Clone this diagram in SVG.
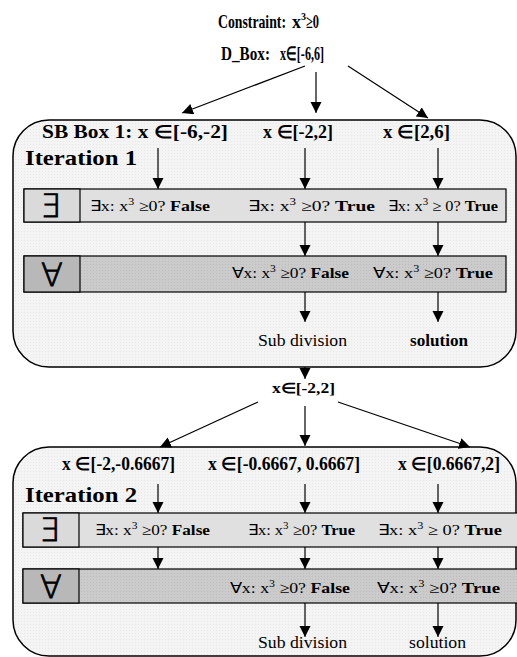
<svg xmlns="http://www.w3.org/2000/svg" width="517" height="657" viewBox="0 0 517 657">
<defs>
<marker id="ah" markerWidth="10" markerHeight="12" refX="11" refY="5.5" orient="auto" markerUnits="userSpaceOnUse">
<path d="M0,0 L11,5.5 L0,11 z" fill="#000"/>
</marker>
<pattern id="dots" width="3" height="3" patternUnits="userSpaceOnUse">
<rect width="3" height="3" fill="#f4f4f4"/>
<rect width="1" height="1" fill="#e8e8e8"/>
</pattern>
<pattern id="dots2" width="3" height="3" patternUnits="userSpaceOnUse">
<rect width="3" height="3" fill="#cbcbcb"/>
<rect width="1" height="1" fill="#bdbdbd"/>
</pattern>
</defs>
<style>
text{font-family:"Liberation Serif","Times New Roman",serif;fill:#000}
.b{font-weight:bold}
.h{font-size:18px;font-weight:bold}
.it{font-size:22px;font-weight:bold}
.q{font-size:15px}
.sym{font-family:"DejaVu Sans",sans-serif;font-size:32px;font-weight:200;text-anchor:middle;stroke:#000;stroke-width:0.8}
.frame{fill:url(#dots);stroke:#000;stroke-width:1.5}
.ex{fill:#e0e0e0;stroke:#000;stroke-width:1.2}
.exs{fill:#dadada;stroke:#000;stroke-width:1.2}
.fa{fill:url(#dots2);stroke:#000;stroke-width:1.2}
.fas{fill:#b8b8b8;stroke:#000;stroke-width:1.2}
#connectors line{stroke:#000;stroke-width:1.2;marker-end:url(#ah)}
</style>
<rect width="517" height="657" fill="#fff"/>

<g id="header">
<text class="h" x="218" y="28" style="font-size:19px" textLength="68" lengthAdjust="spacingAndGlyphs">Constraint:</text>
<text class="h" x="292" y="28">x</text>
<text class="b" x="301" y="20" style="font-size:10px">3</text>
<text class="h" x="306" y="28" textLength="13" lengthAdjust="spacingAndGlyphs">≥0</text>
<text class="h" x="221" y="60" style="font-size:19px" textLength="49" lengthAdjust="spacingAndGlyphs">D_Box:</text>
<text class="h" x="280" y="60" style="font-size:19px" textLength="44" lengthAdjust="spacingAndGlyphs">x∈[-6,6]</text>
</g>

<g id="iteration1">
<rect class="frame" x="13" y="120" width="503" height="247" rx="36" ry="36"/>
<text class="h" x="42" y="138" textLength="186" lengthAdjust="spacingAndGlyphs">SB Box 1: x ∈[-6,-2]</text>
<text class="h" x="263" y="138" textLength="70" lengthAdjust="spacingAndGlyphs">x ∈[-2,2]</text>
<text class="h" x="383" y="138" textLength="67" lengthAdjust="spacingAndGlyphs">x ∈[2,6]</text>
<text class="it" x="25" y="165" textLength="112" lengthAdjust="spacingAndGlyphs">Iteration 1</text>
<g id="exists1">
<rect class="ex" x="24" y="189" width="482" height="33"/>
<rect class="exs" x="24" y="189" width="56" height="33"/>
<text class="sym" x="50" y="217">∃</text>
<text class="q" x="90" y="211" textLength="120" lengthAdjust="spacingAndGlyphs">∃x: x<tspan font-size="10" dy="-6">3</tspan><tspan dy="6"> ≥0? </tspan><tspan class="b">False</tspan></text>
<text class="q" x="248" y="211" textLength="127" lengthAdjust="spacingAndGlyphs">∃x: x<tspan font-size="10" dy="-6">3</tspan><tspan dy="6"> ≥0? </tspan><tspan class="b">True</tspan></text>
<text class="q" x="388" y="211" textLength="110" lengthAdjust="spacingAndGlyphs">∃x: x<tspan font-size="10" dy="-6">3</tspan><tspan dy="6"> ≥ 0? </tspan><tspan class="b">True</tspan></text>
</g>
<g id="forall1">
<rect class="fa" x="24" y="256" width="482" height="36"/>
<rect class="fas" x="24" y="256" width="56" height="36"/>
<text class="sym" x="52" y="286">∀</text>
<text class="q" x="232" y="278" textLength="117" lengthAdjust="spacingAndGlyphs">∀x: x<tspan font-size="10" dy="-6">3</tspan><tspan dy="6"> ≥0? </tspan><tspan class="b">False</tspan></text>
<text class="q" x="373" y="278" textLength="120" lengthAdjust="spacingAndGlyphs">∀x: x<tspan font-size="10" dy="-6">3</tspan><tspan dy="6"> ≥0? </tspan><tspan class="b">True</tspan></text>
</g>
<text class="q" x="258" y="346" style="font-size:16px" textLength="89" lengthAdjust="spacingAndGlyphs">Sub division</text>
<text class="q b" x="410" y="346" style="font-size:16px" textLength="58" lengthAdjust="spacingAndGlyphs">solution</text>
</g>

<g id="mid">
<text class="b" x="272" y="393" style="font-size:14px" textLength="63" lengthAdjust="spacingAndGlyphs">x∈[-2,2]</text>
</g>

<g id="iteration2">
<rect class="frame" x="13" y="447" width="503" height="209" rx="36" ry="36"/>
<text class="h" x="62" y="470" textLength="113" lengthAdjust="spacingAndGlyphs">x ∈[-2,-0.6667]</text>
<text class="h" x="208" y="470" textLength="152" lengthAdjust="spacingAndGlyphs">x ∈[-0.6667, 0.6667]</text>
<text class="h" x="398" y="470" textLength="102" lengthAdjust="spacingAndGlyphs">x ∈[0.6667,2]</text>
<text class="it" x="25" y="502" textLength="112" lengthAdjust="spacingAndGlyphs">Iteration 2</text>
<g id="exists2">
<rect class="ex" x="23" y="513" width="496" height="34"/>
<rect class="exs" x="23" y="513" width="56" height="34"/>
<text class="sym" x="49" y="541">∃</text>
<text class="q" x="95" y="535" textLength="115" lengthAdjust="spacingAndGlyphs">∃x: x<tspan font-size="10" dy="-6">3</tspan><tspan dy="6"> ≥0? </tspan><tspan class="b">False</tspan></text>
<text class="q" x="248" y="535" textLength="107" lengthAdjust="spacingAndGlyphs">∃x: x<tspan font-size="10" dy="-6">3</tspan><tspan dy="6"> ≥0? </tspan><tspan class="b">True</tspan></text>
<text class="q" x="378" y="535" textLength="124" lengthAdjust="spacingAndGlyphs">∃x: x<tspan font-size="10" dy="-6">3</tspan><tspan dy="6"> ≥ 0? </tspan><tspan class="b">True</tspan></text>
</g>
<g id="forall2">
<rect class="fa" x="23" y="569" width="496" height="34"/>
<rect class="fas" x="23" y="569" width="56" height="34"/>
<text class="sym" x="51" y="598">∀</text>
<text class="q" x="230" y="593" textLength="120" lengthAdjust="spacingAndGlyphs">∀x: x<tspan font-size="10" dy="-6">3</tspan><tspan dy="6"> ≥0? </tspan><tspan class="b">False</tspan></text>
<text class="q" x="377" y="593" textLength="123" lengthAdjust="spacingAndGlyphs">∀x: x<tspan font-size="10" dy="-6">3</tspan><tspan dy="6"> ≥0? </tspan><tspan class="b">True</tspan></text>
</g>
<text class="q" x="258" y="648" style="font-size:16px" textLength="89" lengthAdjust="spacingAndGlyphs">Sub division</text>
<text class="q" x="409" y="648" style="font-size:16px" textLength="57" lengthAdjust="spacingAndGlyphs">solution</text>
</g>

<g id="connectors">
<line x1="305" y1="66" x2="182" y2="113"/>
<line x1="316" y1="72" x2="316" y2="113"/>
<line x1="348" y1="66" x2="428" y2="118"/>
<line x1="158" y1="148" x2="158" y2="189"/>
<line x1="305" y1="148" x2="305" y2="189"/>
<line x1="438" y1="148" x2="438" y2="189"/>
<line x1="305" y1="222" x2="305" y2="256"/>
<line x1="438" y1="222" x2="438" y2="256"/>
<line x1="305" y1="292" x2="305" y2="322"/>
<line x1="438" y1="292" x2="438" y2="322"/>
<line x1="305" y1="367" x2="305" y2="379"/>
<line x1="258" y1="402" x2="160" y2="447"/>
<line x1="305" y1="406" x2="305" y2="446"/>
<line x1="338" y1="402" x2="470" y2="447"/>
<line x1="158" y1="484" x2="158" y2="513"/>
<line x1="305" y1="484" x2="305" y2="513"/>
<line x1="438" y1="484" x2="438" y2="513"/>
<line x1="158" y1="547" x2="158" y2="569"/>
<line x1="305" y1="547" x2="305" y2="569"/>
<line x1="438" y1="547" x2="438" y2="569"/>
<line x1="305" y1="603" x2="305" y2="637"/>
<line x1="438" y1="603" x2="438" y2="637"/>
</g>
</svg>
